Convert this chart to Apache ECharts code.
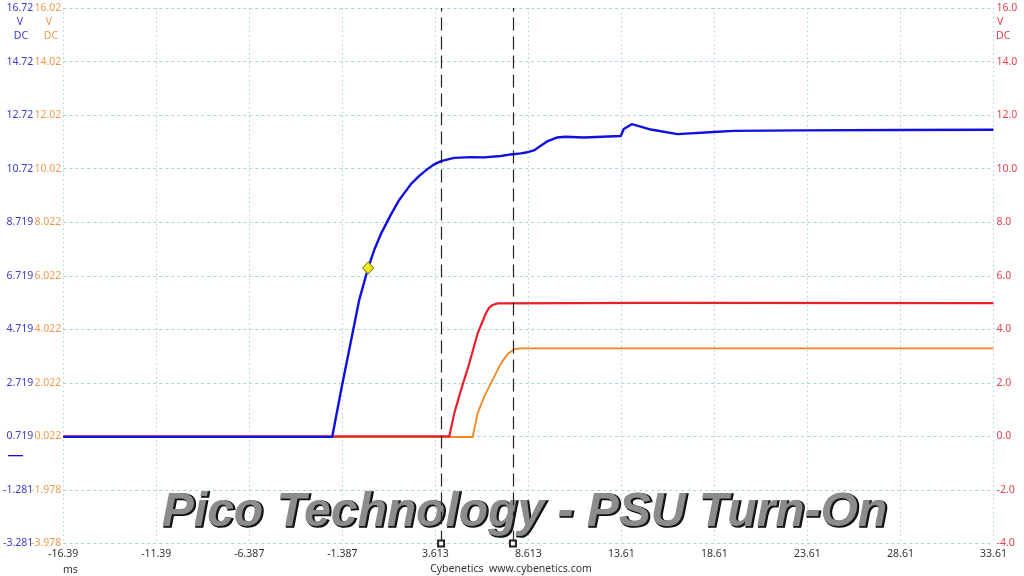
<!DOCTYPE html>
<html><head><meta charset="utf-8">
<script src="https://cdn.jsdelivr.net/npm/echarts@6/dist/echarts.min.js"></script>
<style>html,body{margin:0;padding:0;background:#fff}#c{width:1024px;height:576px}</style>
</head><body><div id="c"></div>
<script>
// ---- axis setup (values) ----
const T0 = -16.387;          // left edge of time axis, ms
const tSpan = 50;            // ms shown
const tStep = 5;             // ms per division
const blueMin = -3.281;      // blue channel axis minimum (V)
const orangeMin = -3.978;    // orange channel axis minimum (V)
const redMin = -4.0;         // red channel axis minimum (V)
const vSpan = 20, vStep = 2;

// ---- blue channel (V) ----
const blueT = [-16.387, -1.93, -1.45, -0.91, -0.48, 0.00, 0.35, 0.70, 1.24, 1.67, 2.31, 2.75, 3.22, 3.56, 3.92, 4.62, 5.53, 6.23, 7.14, 7.67, 8.20, 8.48, 8.91, 9.28, 9.66, 10.14, 10.60, 11.59, 13.58, 13.74, 14.17, 14.60, 15.19, 16.63, 18.57, 19.64, 23.23, 28.60, 33.61];
const blueV = [0.70, 0.70, 2.45, 4.32, 5.81, 7.01, 7.72, 8.30, 9.02, 9.55, 10.15, 10.45, 10.72, 10.88, 11.00, 11.12, 11.15, 11.14, 11.19, 11.25, 11.29, 11.32, 11.40, 11.57, 11.75, 11.88, 11.91, 11.88, 11.94, 12.20, 12.38, 12.30, 12.18, 12.01, 12.09, 12.13, 12.15, 12.16, 12.17];

// ---- red channel (V) ----
const redT = [-16.387, 4.36, 4.63, 4.99, 5.44, 5.89, 6.33, 6.50, 6.69, 6.96, 15.00, 33.61];
const redV = [0.00, 0.00, 0.86, 1.73, 2.73, 3.85, 4.60, 4.80, 4.91, 4.97, 4.99, 4.98];

// ---- orange channel (V) ----
const orangeT = [-16.387, 5.62, 5.89, 6.24, 6.69, 7.14, 7.50, 7.85, 8.21, 20.00, 33.61];
const orangeV = [0.00, 0.00, 0.89, 1.51, 2.13, 2.75, 3.10, 3.28, 3.31, 3.31, 3.31];

// ---- rulers / trigger ----
const cursorT = [3.92, 7.78];
const triggerT = 0.00, triggerV = 7.01;
const blueZero = 0.0;

const labelFont = 'Noto Sans';
function sig4(v){ return String(parseFloat(v.toPrecision(4))); }
function pts(ts, vs, off){ return ts.map((t,i)=>[t - T0, vs[i] - off]); }

const chart = echarts.init(document.getElementById('c'), null, {renderer:'canvas'});
const gridCol = '#a6d5da';
chart.setOption({
  animation:false,
  backgroundColor:'#fff',
  grid:{left:61.5, right:30.5, top:8, bottom:32.5, containLabel:false},
  xAxis:{type:'value', min:0, max:tSpan, interval:tStep,
    axisLine:{show:false}, axisTick:{show:false},
    axisLabel:{color:'#333', fontSize:10.5, fontFamily:labelFont, margin:5, formatter:v=>sig4(v + T0)},
    splitLine:{show:true, lineStyle:{color:gridCol, type:[1.5,3], width:1}}},
  yAxis:[
    {type:'value', min:0, max:vSpan, interval:vStep, position:'left', offset:28,
      axisLine:{show:false}, axisTick:{show:false}, splitLine:{show:false},
      axisLabel:{color:'#3c3cc8', fontSize:10.5, fontFamily:labelFont, margin:2, formatter:v=>sig4(v + blueMin)}},
    {type:'value', min:0, max:vSpan, interval:vStep, position:'left', offset:0,
      axisLine:{show:false}, axisTick:{show:false},
      splitLine:{show:true, lineStyle:{color:gridCol, type:[3,3], width:1}},
      axisLabel:{color:'#ee9a4c', fontSize:10.5, fontFamily:labelFont, margin:2, formatter:v=>sig4(v + orangeMin)}},
    {type:'value', min:0, max:vSpan, interval:vStep, position:'right', offset:0,
      axisLine:{show:false}, axisTick:{show:false}, splitLine:{show:false},
      axisLabel:{color:'#e4434f', fontSize:10.5, fontFamily:labelFont, margin:3, formatter:v=>(v + redMin).toFixed(1)}}
  ],
  series:[
    {type:'line', name:'orange', yAxisIndex:1, z:2, showSymbol:false, symbol:'none',
      lineStyle:{color:'#f5861e', width:1.8, join:'round'}, data:pts(orangeT, orangeV, orangeMin)},
    {type:'line', name:'red', yAxisIndex:2, z:3, showSymbol:false, symbol:'none',
      lineStyle:{color:'#e8202a', width:2.2, join:'round'}, data:pts(redT, redV, redMin)},
    {type:'line', name:'blue', yAxisIndex:0, z:4, showSymbol:false, symbol:'none',
      lineStyle:{color:'#1010e0', width:2.4, join:'round'}, data:pts(blueT, blueV, blueMin),
      markPoint:{silent:true, symbol:'diamond', symbolSize:[11,12], label:{show:false},
        itemStyle:{color:'#f4e818', borderColor:'#8a8a20', borderWidth:1},
        data:[{coord:[triggerT - T0, triggerV - blueMin]}]},
      markLine:{silent:true, symbol:['emptyRect','none'], symbolSize:6, label:{show:false},
        lineStyle:{color:'#222', type:[13,6], width:1.2},
        data:cursorT.map(t=>({xAxis:t - T0}))}
    }
  ]
});

const yZero = chart.convertToPixel({yAxisIndex:0}, blueZero - blueMin);
const txt = (x,y,s,c,align,size)=>({type:'text', z:10, silent:true, x:x, y:y,
  style:{text:s, fill:c, font:(size||10.5)+'px "'+labelFont+'"', align:align||'center', verticalAlign:'middle'}});
const titleText = 'Pico Technology - PSU Turn-On';
const titleFont = 'italic bold 48px "Liberation Sans"';
chart.setOption({graphic:[
  txt(20,22,'V','#3c3cc8'), txt(21,36,'DC','#3c3cc8'),
  txt(49,22,'V','#ee9a4c'), txt(51,36,'DC','#ee9a4c'),
  txt(997,22,'V','#e4434f','left'), txt(996,36,'DC','#e4434f','left'),
  txt(63,570,'ms','#333','left'),
  txt(511,569,'Cybenetics  www.cybenetics.com','#333','center',10.5),
  {type:'line', z:10, silent:true, shape:{x1:8, y1:yZero, x2:23, y2:yZero}, style:{stroke:'#1010e0', lineWidth:1.3}},
  {type:'text', z:1, silent:true, x:526, y:514,
    style:{text:titleText, font:titleFont, align:'center', verticalAlign:'middle',
      fill:'#1a1a1a', stroke:'#000', lineWidth:1.5,
      shadowColor:'rgba(0,0,0,0.45)', shadowBlur:3, shadowOffsetX:1, shadowOffsetY:2}},
  {type:'text', z:1, silent:true, x:524.5, y:512.5,
    style:{text:titleText, font:titleFont, align:'center', verticalAlign:'middle',
      fill:'#8c8c8c'}}
]});
</script></body></html>
